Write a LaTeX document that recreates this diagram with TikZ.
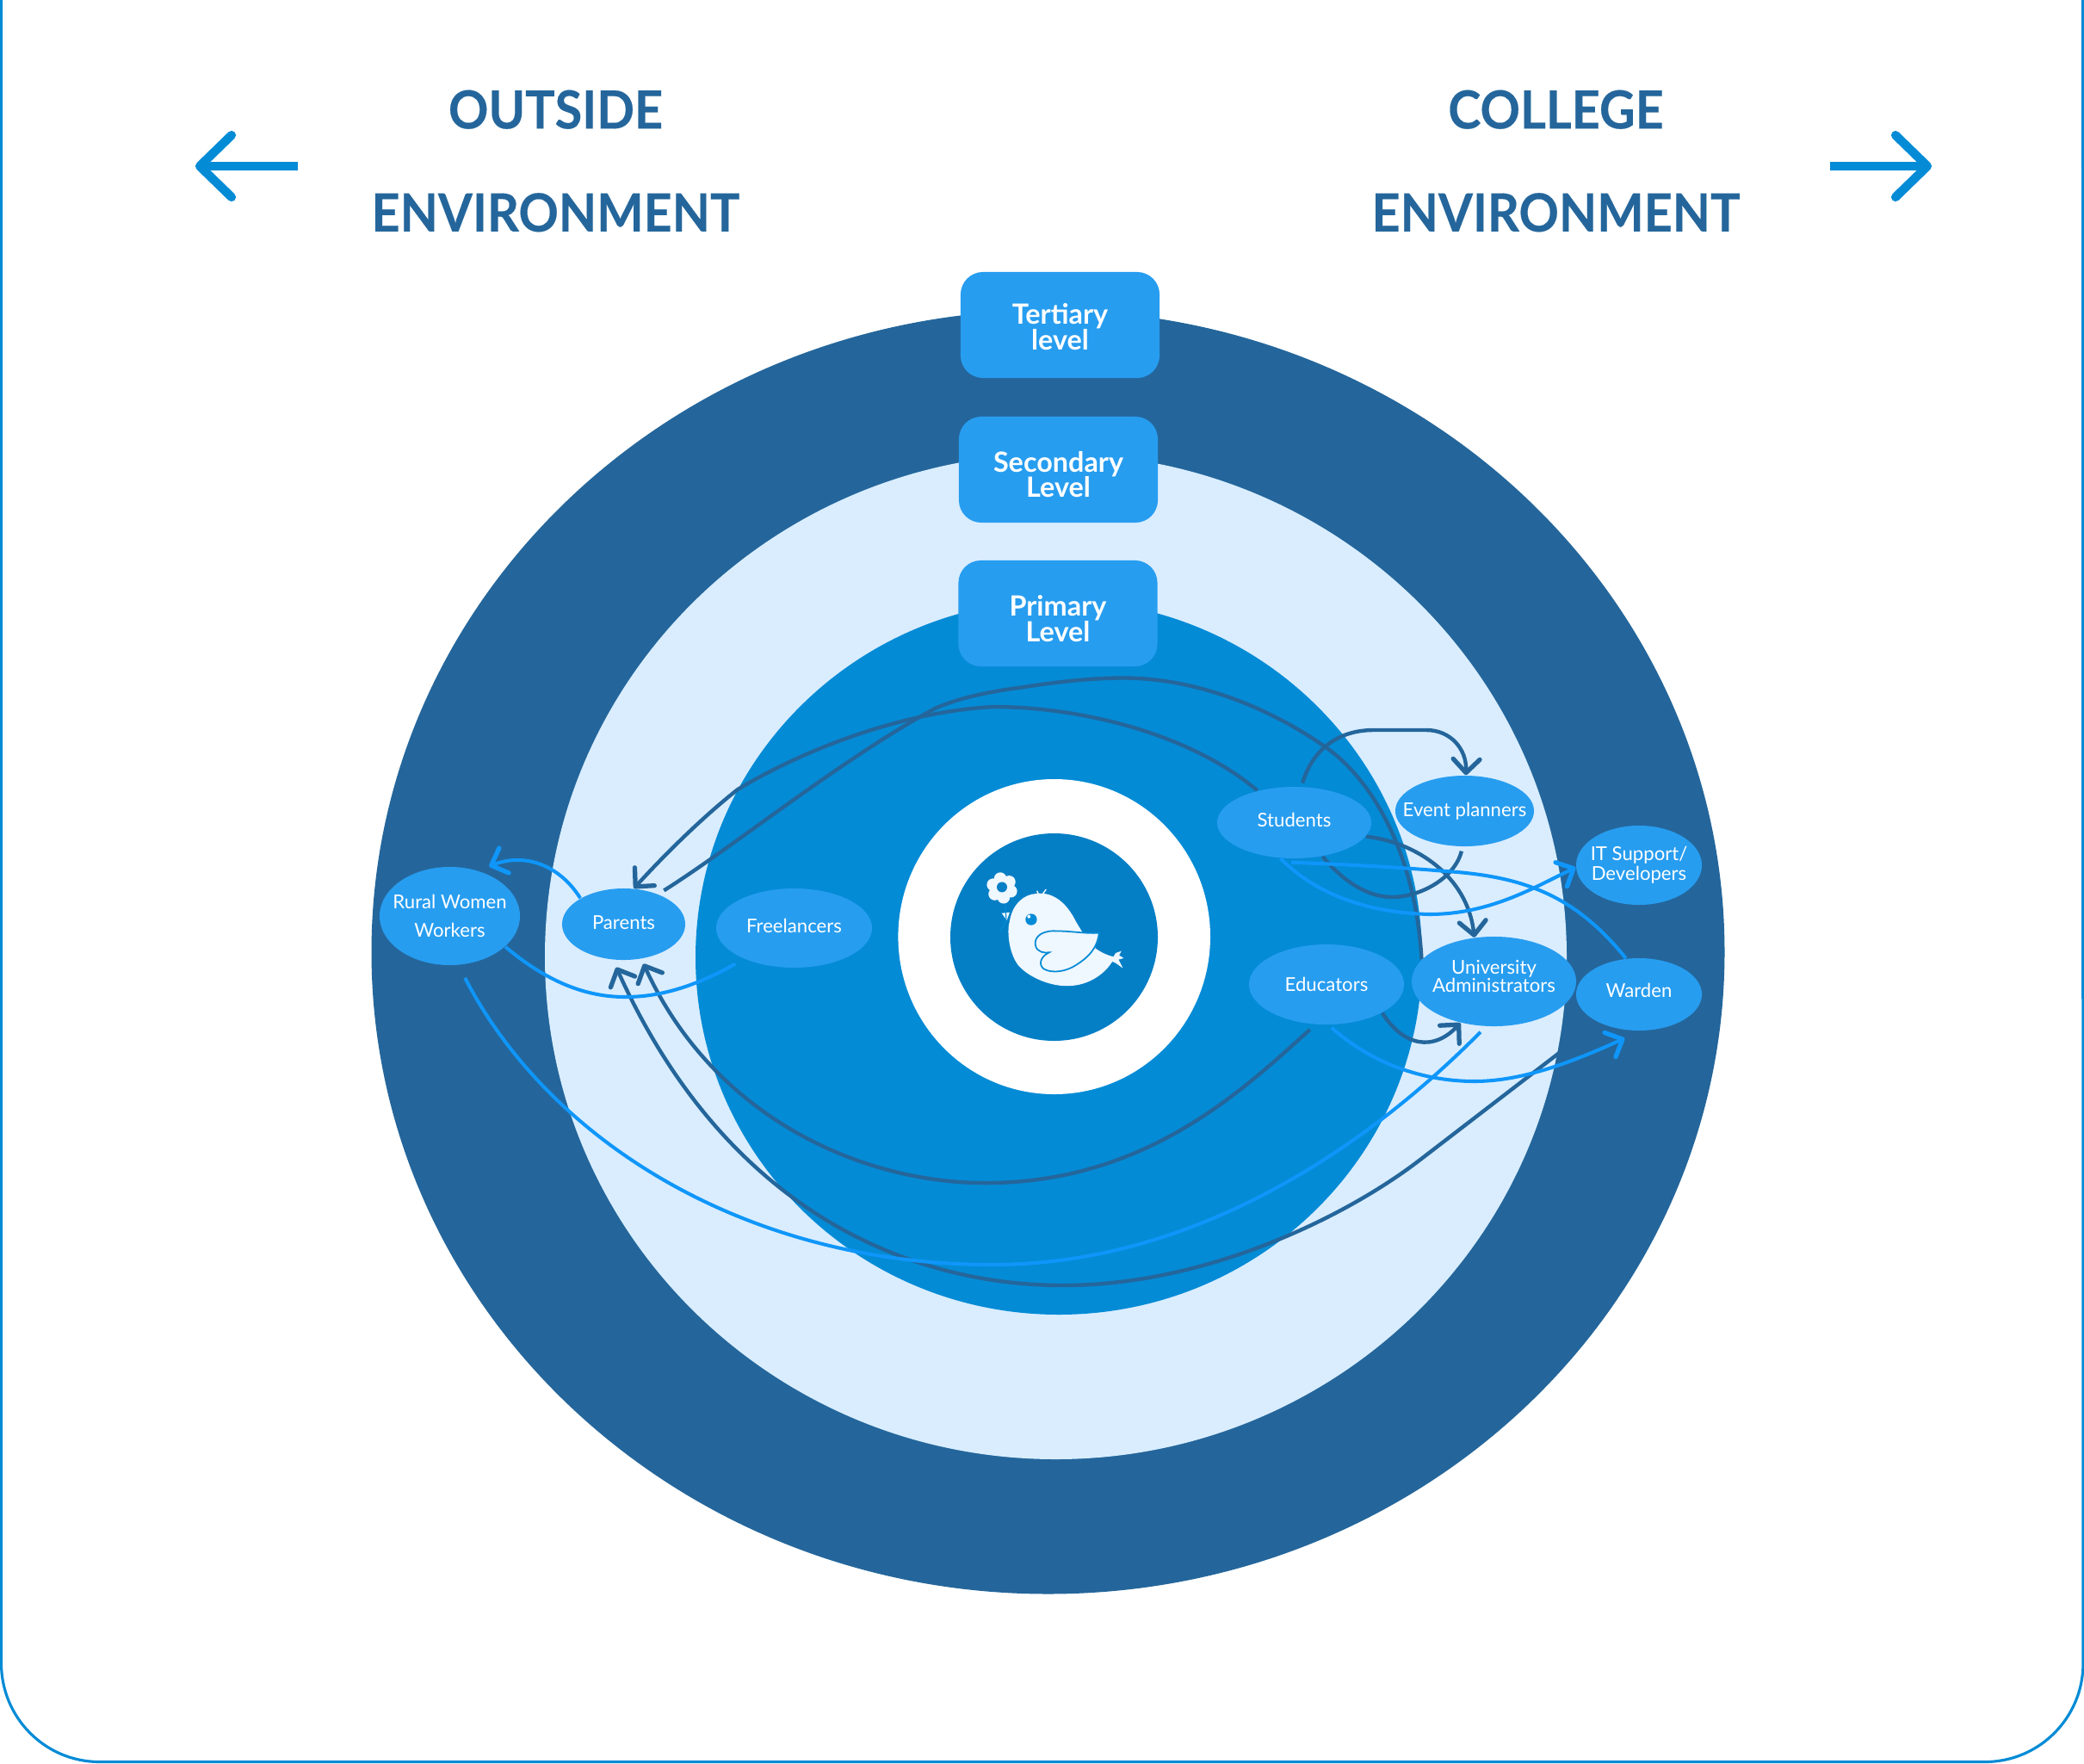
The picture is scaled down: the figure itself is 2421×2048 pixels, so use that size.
\documentclass[tikz,border=0pt]{standalone}
\usepackage{fontspec}
\setmainfont{Lato}
\usetikzlibrary{shapes.geometric,arrows.meta,calc}
\pgfdeclarelayer{bglayer}
\pgfdeclarelayer{linelayer}
\pgfsetlayers{bglayer,linelayer,main}
\definecolor{ringdark}{HTML}{24669B}
\definecolor{ringlight}{HTML}{D9EDFF}
\definecolor{ringmid}{HTML}{048BD6}
\definecolor{core}{HTML}{047FC6}
\definecolor{nodeblue}{HTML}{279DF0}
\definecolor{linkblue}{HTML}{0F96FA}
\definecolor{birdwhite}{HTML}{EFF7FF}
\tikzset{
  person/.style={shape=ellipse,fill=nodeblue,text=white,inner sep=-30pt,align=center,font=\fontsize{6.3}{6.6}\selectfont},
  levelbox/.style={shape=rectangle,rounded corners=0.26cm,fill=nodeblue,text=white,inner sep=0pt,align=center,minimum width=2.31cm,minimum height=1.23cm,font=\bfseries\fontsize{9.2}{8.5}\selectfont},
  headline/.style={text=ringdark,font=\bfseries\fontsize{17.4}{34}\selectfont\addfontfeature{FakeStretch=0.94,FakeBold=0.25},align=center,inner sep=0pt},
  darklink/.style={draw=ringdark,line width=1.25pt},
  bluelink/.style={draw=linkblue,line width=1.15pt},
  tipd/.style={-{Straight Barb[length=4.5pt,width=8.8pt,line width=1.5pt,round]}},
  sidearrow/.style={draw=ringmid,line width=3pt,line cap=butt},
  sidehead/.style={draw=ringmid,line width=2.9pt,line cap=round,line join=round},
}
\newcommand{\topfill}[1]{\rule{0pt}{#1}}
\newcommand{\botfill}[1]{\rule[-#1]{0pt}{#1}}
\begin{document}
\begin{tikzpicture}[x=0.01cm,y=-0.01cm]
\useasboundingbox (0,0) rectangle (2421,2048);
\begin{pgfonlayer}{bglayer}
\fill[white] (0,0) rectangle (2421,2048);
\draw[draw=ringmid,line width=0.9pt] (1.5,0) -- (1.5,1932) arc[start angle=180,end angle=270,x radius=114,y radius=-114.5] -- (2306,2046.5) arc[start angle=270,end angle=360,x radius=114,y radius=-114.5] -- (2419.5,0);
\fill[ringdark] (1217.5,1105.9) ellipse [x radius=786,y radius=745.6];
\fill[ringlight] (1226.5,1111) ellipse [x radius=593.5,y radius=584];
\fill[ringmid] (1230,1112) ellipse [x radius=422,y radius=415];
\fill[white] (1224.7,1088) ellipse [x radius=181.3,y radius=183];
\fill[core] (1224.5,1088.5) circle [radius=120.5];
\begin{scope}[shift={(950,880)},x=0.003333cm,y=-0.003333cm]
\fill[birdwhite] (760,475) .. controls (830,465) and (875,520) .. (900,570) -- (925,612) -- (982,612) -- (968,665) .. controls (990,680) and (1010,690) .. (1032,695) -- (1040,682) -- (1060,675) -- (1052,690) -- (1068,700) -- (1050,705) -- (1065,735) -- (1040,717) -- (1028,712) .. controls (1005,750) and (950,797) .. (870,797) .. controls (800,797) and (730,760) .. (700,725) .. controls (665,680) and (660,600) .. (670,570) .. controls (680,510) and (720,478) .. (760,475) -- cycle;
\draw[draw=ringmid,fill=birdwhite,line width=0.5pt] (982,612) .. controls (930,615) and (890,605) .. (820,605) .. controls (775,607) and (755,630) .. (760,655) .. controls (765,680) and (790,682) .. (808,680) .. controls (775,695) and (770,725) .. (790,738) .. controls (820,755) and (870,745) .. (900,725) .. controls (940,700) and (975,670) .. (982,612) -- cycle;
\fill[ringmid] (745,565) circle [radius=20];
\fill[birdwhite] (737,555) circle [radius=6];
\fill[birdwhite] (642,543) -- (670,540) -- (660,568) -- cycle;
\draw[draw=birdwhite,line width=0.4pt] (770,476) -- (765,465) (785,476) -- (797,460);
\foreach \a in {20,80,140,200,260,320} \fill[birdwhite] (643,455) ++(\a:33) circle [radius=22];
\fill[birdwhite] (643,455) circle [radius=33];
\fill[core] (643,452) circle [radius=18];
\draw[draw=ringmid,line width=0.3pt] (655,510) -- (658,570) -- (635,610);
\end{scope}
\end{pgfonlayer}
% arrows at the top
\coordinate (leftstart) at (346,193);
\coordinate (lefttip) at (232,193);
\coordinate (rightstart) at (2126,193);
\coordinate (righttip) at (2239,193);
\coordinate (lefta) at (269,157);
\coordinate (leftb) at (269,229);
\coordinate (righta) at (2202,157);
\coordinate (rightb) at (2202,229);
\draw[sidearrow] (leftstart) -- (lefttip);
\draw[sidehead] (lefta) -- (lefttip) -- (leftb);
\draw[sidearrow] (rightstart) -- (righttip);
\draw[sidehead] (righta) -- (righttip) -- (rightb);
% headings
\node[headline] (outside) at (645.5,187) {OUTSIDE\\ENVIRONMENT};
\node[headline] (college) at (1807.5,187) {COLLEGE\\ENVIRONMENT};
% level boxes
\node[levelbox] (tertiary) at (1231.5,377.5) {\topfill{8pt}Tertiary\\level};
\node[levelbox] (secondary) at (1229.5,545.5) {\topfill{10pt}Secondary\\Level};
\node[levelbox] (primary) at (1229,712.5) {\topfill{10.4pt}Primary\\Level};
% people
\node[person,minimum width=1.79cm,minimum height=0.83cm] (students) at (1503.5,955.5) {Students\botfill{1.7pt}};
\node[person,minimum width=1.61cm,minimum height=0.82cm] (event) at (1701.5,942) {Event planners};
\node[person,minimum width=1.46cm,minimum height=0.92cm] (it) at (1904,1005) {IT Support/\\[-0.1pt]Developers};
\node[person,minimum width=1.80cm,minimum height=0.93cm] (educators) at (1541,1143.5) {Educators};
\node[person,minimum width=1.91cm,minimum height=1.04cm] (university) at (1735.5,1140) {University\\[-0.8pt]Administrators\botfill{3.4pt}};
\node[person,minimum width=1.46cm,minimum height=0.84cm] (warden) at (1904,1155) {Warden\botfill{2.6pt}};
\node[person,minimum width=1.63cm,minimum height=1.14cm] (rural) at (522.5,1064) {Rural Women\\[2.8pt]Workers};
\node[person,minimum width=1.43cm,minimum height=0.83cm] (parents) at (724.5,1073.5) {Parents\botfill{0.85pt}};
\node[person,minimum width=1.81cm,minimum height=0.92cm] (freelancers) at (922.5,1078) {Freelancers\botfill{1.7pt}};
% connectors
\begin{pgfonlayer}{linelayer}
\draw[darklink,tipd] ($(students.78)+(0.7,-4)$) .. controls (1525,870) and (1555,848) .. (1596,848) -- (1657,848) .. controls (1685,848) and (1704,870) .. (event.88);
\draw[darklink,tipd] (students.-11) .. controls (1645,978) and (1705,1018) .. (university.114);
\draw[darklink] ($(event.-95)+(0,5)$) .. controls (1690,1020) and (1650,1042) .. (1617,1042) .. controls (1585,1042) and (1555,1018) .. (students.-50);
\draw[darklink] ($(parents.40)+(5.5,-4.5)$) .. controls (850,985) and (980,880) .. (1086,823) .. controls (1120,808) and (1160,802) .. (1190,798) .. controls (1240,790) and (1290,786) .. (1322,788) .. controls (1400,792) and (1480,825) .. (1543,870) .. controls (1600,912) and (1645,1000) .. (university.163);
\draw[darklink,tipd] (students.139) .. controls (1380,850) and (1250,821) .. (1155,821) .. controls (1050,826) and (935,870) .. (857,917) .. controls (815,950) and (770,995) .. (parents.74);
\draw[darklink,tipd] ($(educators.-110)+(-2.4,6)$) .. controls (1440,1270) and (1330,1372) .. (1150,1374) .. controls (1005,1376) and (830,1300) .. ($(parents.-60)+(0,6)$);
\draw[darklink,tipd] (warden.-145) -- (1646,1350) .. controls (1560,1415) and (1400,1493) .. (1235,1493) .. controls (1060,1493) and (845,1410) .. ($(parents.-97)+(-3.4,8)$);
\draw[bluelink] ($(rural.-76)+(3.5,15)$) .. controls (635,1320) and (860,1468) .. (1150,1469) .. controls (1380,1470) and (1580,1340) .. ($(university.-102)+(-4.5,6.4)$);
\draw[darklink,tipd] (educators.-27) .. controls (1630,1215) and (1665,1222) .. (university.-129);
\draw[bluelink,tipd] ($(educators.-83)+(0,3)$) .. controls (1605,1245) and (1670,1256) .. (1713,1256) .. controls (1770,1256) and (1830,1232) .. ($(warden.-108)+(-3,9)$);
\draw[bluelink,tipd] (students.-111) .. controls (1530,1040) and (1590,1060) .. (1660,1062) .. controls (1730,1062) and (1780,1032) .. (it.182);
\draw[bluelink] (warden.110) .. controls (1830,1040) and (1770,1018) .. (1680,1012) .. controls (1620,1007) and (1560,1004) .. ($(students.-95)+(0,4)$);
\draw[bluelink,tipd] (parents.149) .. controls (650,1005) and (610,990) .. ($(rural.50)+(4,-8)$);
\draw[bluelink] ($(freelancers.-149)+(-9,6)$) .. controls (800,1150) and (760,1158) .. (726,1158) .. controls (680,1158) and (635,1140) .. (rural.-29);
\end{pgfonlayer}
\end{tikzpicture}
\end{document}
